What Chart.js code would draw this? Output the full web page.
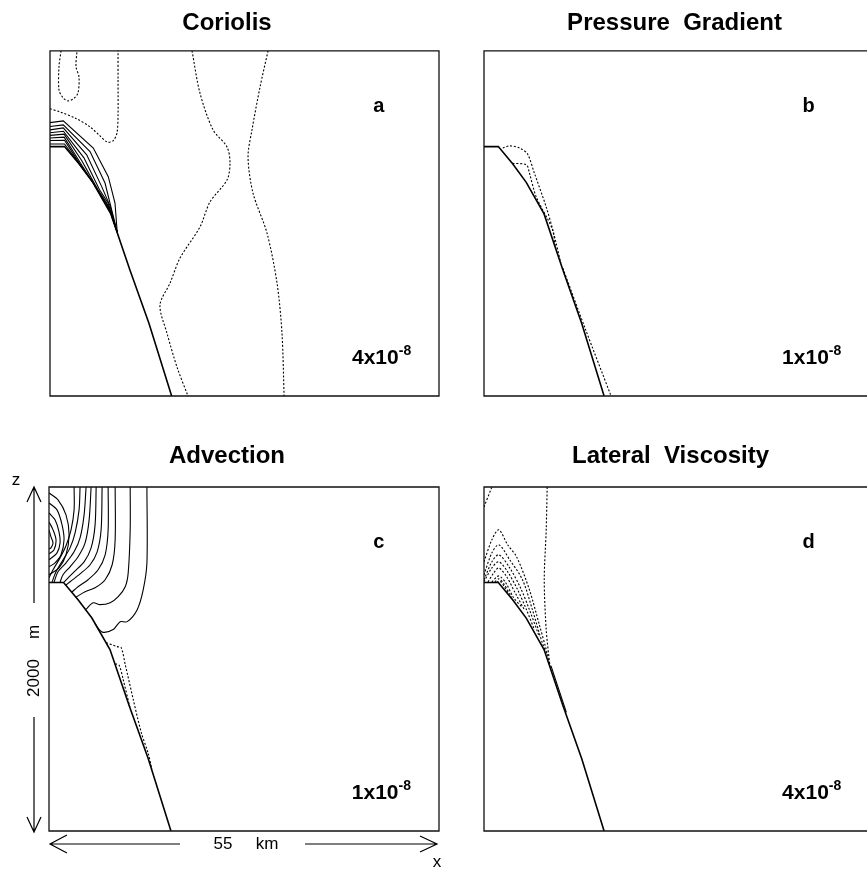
<!DOCTYPE html>
<html>
<head>
<meta charset="utf-8">
<script src="https://cdn.jsdelivr.net/npm/chart.js@4.4.0/dist/chart.umd.min.js"></script>
<style>
html, body { margin: 0; padding: 0; background: #fff; overflow: hidden; width: 867px; height: 870px; }
canvas { position: absolute; }
</style>
</head>
<body>
<canvas id="chartA" width="454" height="410" style="left:0;top:0"></canvas>
<canvas id="chartB" width="387" height="410" style="left:481px;top:0"></canvas>
<canvas id="chartC" width="454" height="440" style="left:0;top:430px"></canvas>
<canvas id="chartD" width="395" height="440" style="left:473px;top:430px"></canvas>
<script>
// panel texts
const titles = ['Coriolis', 'Pressure  Gradient', 'Advection', 'Lateral  Viscosity'];
const letters = ['a', 'b', 'c', 'd'];
const scaleMantissa = ['4x10', '1x10', '1x10', '4x10'];
const scaleExponent = '-8';

// bottom topography, [x km, depth m]
const slope = [[0, 555], [2.05, 555], [4.1, 655], [6.05, 762], [8.6, 945], [11.3, 1270], [14.0, 1580], [17.2, 2000]];

// a: Coriolis
const coriolisSolid = [
  [[0, 416], [1.88, 406], [6.12, 563], [8.24, 729], [9.19, 882], [9.5, 1050]],
  [[0, 439], [1.88, 429], [5.66, 584], [7.78, 766], [8.72, 922], [9.5, 1050]],
  [[0, 458], [1.88, 447], [5.19, 603], [7.31, 787], [8.5, 900], [9.5, 1050]],
  [[0, 475], [1.9, 466], [4.8, 620], [7.0, 805], [8.2, 880], [9.5, 1050]],
  [[0, 490], [2.0, 483], [4.5, 637], [6.7, 800], [8.3, 900], [9.5, 1050]],
  [[0, 505], [2.0, 500], [4.3, 650], [6.4, 785], [8.4, 915], [9.5, 1050]],
  [[0, 520], [2.05, 518], [4.2, 655], [6.2, 770], [8.5, 930], [9.5, 1050]],
  [[0, 540], [2.05, 540], [4.1, 652], [6.05, 760], [8.6, 940], [9.5, 1050]]
];
const coriolisDashed = [
  [[1.56, 0], [1.27, 93], [1.27, 226], [1.84, 272], [2.55, 290], [3.4, 275], [3.96, 244], [4.1, 151], [3.68, 93], [3.82, 0]],
  [[0, 336], [1.41, 354], [3.54, 389], [5.66, 441], [7.07, 493], [8.06, 528], [8.91, 522], [9.47, 476], [9.62, 371], [9.62, 168], [9.62, 0]],
  [[20.08, 0], [21.2, 244], [23.05, 458], [25.03, 557], [25.45, 650], [25.03, 748], [22.62, 876], [21.2, 1021], [18.38, 1201], [16.97, 1346], [15.55, 1473], [16.54, 1636], [17.96, 1833], [19.51, 2000]],
  [[30.83, 0], [29.7, 209], [28.56, 458], [28.0, 615], [28.7, 824], [30.68, 1056], [32.1, 1346], [32.8, 1636], [33.1, 2000]]
];

// b: Pressure Gradient
const pressureSolid = [];
const pressureDashed = [
  [[2.69, 563], [3.68, 551], [5.09, 563], [6.22, 597], [7.21, 708], [8.91, 905], [10.0, 1060], [11.0, 1230]],
  [[4.1, 652], [6.08, 661], [6.5, 708], [7.49, 847], [9.76, 1030], [10.2, 1130]],
  [[11.3, 1260], [14.5, 1610], [18.2, 2000]]
];

// c: Advection
const advectionSolid = [
  [[13.81, 0], [13.81, 441], [13.29, 597], [12.44, 713], [11.03, 783], [10.04, 783], [9.05, 829], [7.64, 845], [6.9, 820], [6.5, 795]],
  [[11.45, 0], [11.45, 249], [11.17, 499], [10.75, 580], [9.76, 638], [8.63, 673], [7.21, 684], [6.22, 673], [5.2, 712]],
  [[9.33, 0], [9.33, 307], [8.91, 452], [7.92, 539], [6.5, 586], [5.09, 609], [3.82, 640]],
  [[8.34, 0], [8.34, 249], [7.92, 394], [6.93, 481], [5.51, 539], [4.1, 580], [3.25, 610]],
  [[7.49, 0], [7.35, 249], [6.79, 377], [5.8, 452], [4.38, 505], [2.97, 551], [2.4, 570]],
  [[6.65, 0], [6.5, 220], [5.94, 354], [4.95, 435], [3.54, 493], [2.12, 553]],
  [[5.94, 0], [5.66, 191], [5.09, 325], [4.1, 406], [2.97, 464], [1.98, 510], [1.56, 553]],
  [[5.23, 0], [4.95, 162], [4.38, 296], [3.54, 377], [2.4, 441], [1.27, 493], [0.71, 553]],
  [[4.38, 0], [4.24, 133], [3.68, 267], [2.97, 354], [1.98, 423], [0.99, 493], [0.42, 553]],
  [[3.54, 0], [3.54, 133], [3.11, 249], [2.4, 342], [1.56, 412], [0.57, 481], [0, 528]],
  [[0, 35], [1.27, 75], [2.4, 162], [2.83, 278], [2.4, 394], [1.41, 470], [0, 510]],
  [[0, 93], [1.13, 133], [1.84, 220], [2.12, 307], [1.7, 394], [0.85, 441], [0, 464]],
  [[0, 151], [0.85, 191], [1.41, 261], [1.56, 325], [1.13, 383], [0, 423]],
  [[0, 203], [0.57, 249], [0.99, 307], [0.71, 365], [0, 389]],
  [[0, 249], [0.28, 290], [0.57, 325], [0.28, 354], [0, 360]]
];
const advectionDashed = [
  [[8.06, 905], [9.62, 928], [10.18, 934], [10.75, 1032], [11.88, 1235], [13.01, 1427], [14.0, 1550], [14.5, 1640]],
  [[9.33, 1027], [9.9, 1038], [10.46, 1119], [11.4, 1280]]
];

// d: Lateral Viscosity
const viscositySolid = [
  [[9.6, 1040], [10.0, 1090], [11.8, 1310]]
];
const viscosityDashed = [
  [[0, 435], [1.13, 307], [2.12, 249], [3.39, 336], [4.67, 406], [6.5, 597], [7.92, 800], [8.91, 945], [9.5, 1045]],
  [[0, 510], [1.13, 383], [2.12, 336], [3.68, 423], [5.51, 539], [6.93, 713], [8.34, 905], [9.05, 975]],
  [[0, 539], [1.13, 435], [2.12, 394], [3.68, 470], [5.23, 586], [6.5, 713], [7.92, 870]],
  [[0, 551], [1.13, 470], [2.12, 435], [3.39, 493], [4.81, 597], [6.08, 713], [7.21, 829]],
  [[0.57, 552], [1.41, 499], [2.12, 470], [3.25, 522], [4.52, 620], [5.8, 715]],
  [[1.13, 552], [2.12, 517], [3.11, 557], [4.24, 644], [5.37, 695]],
  [[1.56, 552], [2.12, 534], [2.83, 563], [3.96, 643]],
  [[1.8, 553], [2.3, 548], [3.0, 585], [3.5, 620]],
  [[9.05, 0], [8.91, 249], [8.63, 539], [8.91, 829], [9.45, 1045]],
  [[0, 116], [1.13, 0]]
];

const FONT = '"Liberation Sans", Arial, Helvetica, sans-serif';

function toPoints(line) {
  return line.map(p => ({ x: p[0], y: p[1] }));
}

function buildDatasets(solid, dashed, solidTension) {
  const sets = [{
    data: toPoints(slope), borderColor: '#000', borderWidth: 1.6, tension: 0
  }];
  solid.forEach(l => sets.push({
    data: toPoints(l), borderColor: '#000', borderWidth: 1.1, tension: solidTension
  }));
  dashed.forEach(l => sets.push({
    data: toPoints(l), borderColor: '#000', borderWidth: 1.1, borderDash: [2, 1.8], tension: 0.3
  }));
  sets.forEach(s => { s.showLine = true; s.pointRadius = 0; s.fill = false; });
  return sets;
}

// box around the plot area
const framePlugin = {
  id: 'frame',
  afterDatasetsDraw(chart, args, opts) {
    const { ctx, chartArea: a } = chart;
    ctx.save();
    ctx.strokeStyle = '#111';
    ctx.lineWidth = 1.3;
    ctx.beginPath();
    if (opts.right) {
      ctx.rect(a.left, a.top, a.right - a.left, a.bottom - a.top);
    } else {
      ctx.moveTo(a.right + 2, a.top);
      ctx.lineTo(a.left, a.top);
      ctx.lineTo(a.left, a.bottom);
      ctx.lineTo(a.right + 2, a.bottom);
    }
    ctx.stroke();
    ctx.restore();
  }
};

// panel letter and contour interval
const labelPlugin = {
  id: 'panelLabels',
  afterDraw(chart, args, opts) {
    const { ctx, scales: { x, y } } = chart;
    ctx.save();
    ctx.fillStyle = '#000';
    ctx.textBaseline = 'alphabetic';
    ctx.font = 'bold 20px ' + FONT;
    ctx.textAlign = 'center';
    ctx.fillText(opts.letter, x.getPixelForValue(46.5), y.getPixelForValue(355));
    ctx.textAlign = 'left';
    ctx.font = 'bold 21px ' + FONT;
    const sx = x.getPixelForValue(42.7), sy = y.getPixelForValue(1815);
    ctx.fillText(opts.mantissa, sx, sy);
    const w = ctx.measureText(opts.mantissa).width;
    ctx.font = 'bold 14px ' + FONT;
    ctx.fillText(scaleExponent, sx + w, sy - 9);
    ctx.restore();
  }
};

// z and x scale arrows on panel c
const axisArrowPlugin = {
  id: 'axisArrows',
  afterDraw(chart, args, opts) {
    if (!opts.show) return;
    const { ctx, chartArea: a } = chart;
    ctx.save();
    ctx.strokeStyle = '#000';
    ctx.fillStyle = '#000';
    ctx.lineWidth = 1.2;
    const ax = a.left - 15;
    ctx.beginPath();
    ctx.moveTo(ax, a.top); ctx.lineTo(ax, a.top + 116);
    ctx.moveTo(ax, a.top + 230); ctx.lineTo(ax, a.bottom + 1);
    ctx.moveTo(ax - 7, a.top + 15); ctx.lineTo(ax, a.top); ctx.lineTo(ax + 7, a.top + 15);
    ctx.moveTo(ax - 7, a.bottom - 14); ctx.lineTo(ax, a.bottom + 1); ctx.lineTo(ax + 7, a.bottom - 14);
    const by = a.bottom + 13;
    ctx.moveTo(a.left + 1, by); ctx.lineTo(a.left + 131, by);
    ctx.moveTo(a.left + 256, by); ctx.lineTo(a.right - 2, by);
    ctx.moveTo(a.left + 18, by - 9); ctx.lineTo(a.left + 1, by); ctx.lineTo(a.left + 18, by + 9);
    ctx.moveTo(a.right - 19, by - 8); ctx.lineTo(a.right - 2, by); ctx.lineTo(a.right - 19, by + 8);
    ctx.stroke();

    ctx.font = '17px ' + FONT;
    ctx.textAlign = 'center';
    ctx.textBaseline = 'middle';
    ctx.fillText('z', a.left - 33, a.top - 7);
    ctx.fillText('55', a.left + 174, by);
    ctx.fillText('km', a.left + 218, by);
    ctx.fillText('x', a.right - 2, a.bottom + 31);
    ctx.save();
    ctx.translate(ax, a.top + 191);
    ctx.rotate(-Math.PI / 2);
    ctx.fillText('2000', 0, 0);
    ctx.restore();
    ctx.save();
    ctx.translate(ax, a.top + 145);
    ctx.rotate(-Math.PI / 2);
    ctx.fillText('m', 0, 0);
    ctx.restore();
    ctx.restore();
  }
};

function makePanel(id, idx, solid, dashed, solidTension, layout) {
  const scales = {
    x: { type: 'linear', min: 0, max: 55, display: false },
    y: {
      type: 'linear', min: 0, max: 2000, reverse: true, position: 'left',
      grid: { display: false }, border: { display: false }, ticks: { display: false },
      afterFit: s => { s.width = layout.leftW; }
    }
  };
  if (layout.rightW) {
    scales.y2 = {
      type: 'linear', min: 0, max: 2000, position: 'right',
      grid: { display: false }, border: { display: false }, ticks: { display: false },
      afterFit: s => { s.width = layout.rightW; }
    };
  }
  return new Chart(document.getElementById(id), {
    type: 'scatter',
    data: { datasets: buildDatasets(solid, dashed, solidTension) },
    options: {
      responsive: false,
      devicePixelRatio: 1,
      animation: false,
      layout: { padding: { top: 0, left: 0, right: 0, bottom: layout.padBottom } },
      scales: scales,
      plugins: {
        legend: { display: false },
        tooltip: { enabled: false },
        title: {
          display: true,
          text: titles[idx],
          color: '#000',
          font: { family: FONT, size: 24, weight: 'bold', lineHeight: 1.2 },
          padding: { top: layout.titleTop, bottom: layout.titleBottom }
        },
        frame: { right: layout.frameRight },
        panelLabels: { letter: letters[idx], mantissa: scaleMantissa[idx] },
        axisArrows: { show: layout.arrows }
      }
    },
    plugins: [framePlugin, labelPlugin, axisArrowPlugin]
  });
}

makePanel('chartA', 0, coriolisSolid, coriolisDashed, 0,
  { leftW: 50, rightW: 15, padBottom: 14, titleTop: 9, titleBottom: 13, frameRight: true, arrows: false });
makePanel('chartB', 1, pressureSolid, pressureDashed, 0,
  { leftW: 3, rightW: 0, padBottom: 14, titleTop: 9, titleBottom: 13, frameRight: false, arrows: false });
makePanel('chartC', 2, advectionSolid, advectionDashed, 0.3,
  { leftW: 49, rightW: 15, padBottom: 39, titleTop: 12, titleBottom: 16.2, frameRight: true, arrows: true });
makePanel('chartD', 3, viscositySolid, viscosityDashed, 0,
  { leftW: 11, rightW: 0, padBottom: 39, titleTop: 12, titleBottom: 16.2, frameRight: false, arrows: false });
</script>
</body>
</html>
